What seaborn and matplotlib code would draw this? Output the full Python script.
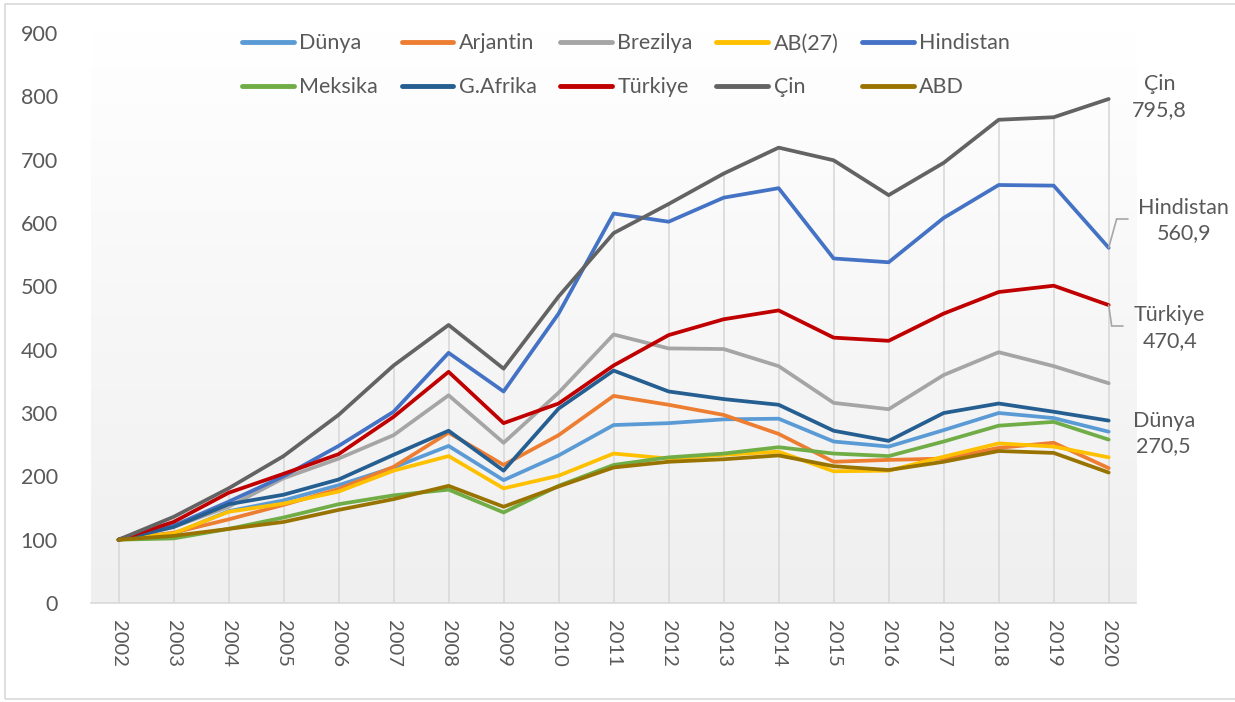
import seaborn as sns
import matplotlib.pyplot as plt
import matplotlib.transforms as mtransforms
from matplotlib.colors import LinearSegmentedColormap
from matplotlib.patches import Rectangle
import numpy as np
import pandas as pd

# Values (index, 2002 = 100)
years = [str(y) for y in range(2002, 2021)]
dunya = [100, 109, 145, 162, 186, 214, 248, 194, 233, 281, 284, 290, 291, 255, 247, 273, 300, 292, 270.5]
arjantin = [100, 111, 132, 155, 180, 215, 269, 218, 265, 327, 313, 297, 267, 223, 226, 228, 245, 253, 213]
brezilya = [100, 120, 152, 197, 228, 265, 328, 253, 332, 424, 402, 401, 374, 316, 306, 360, 396, 374, 347]
ab27 = [100, 110, 144, 157, 176, 209, 232, 181, 201, 236, 228, 234, 239, 208, 209, 231, 252, 247, 230]
hindistan = [100, 122, 160, 200, 248, 302, 395, 334, 457, 615, 602, 640, 655, 544, 538, 608, 660, 659, 560.9]
meksika = [100, 102, 117, 135, 156, 170, 179, 143, 185, 218, 230, 236, 246, 236, 232, 255, 280, 286, 258]
gafrika = [100, 120, 156, 171, 195, 234, 272, 209, 307, 367, 334, 322, 313, 272, 256, 300, 315, 302, 288]
turkiye = [100, 128, 174, 204, 235, 294, 365, 284, 315, 375, 423, 448, 462, 419, 414, 457, 491, 501, 470.4]
cin = [100, 136, 181, 232, 297, 375, 439, 370, 484, 584, 630, 678, 719, 699, 644, 695, 763, 767, 795.8]
abd = [100, 106, 117, 128, 147, 164, 185, 152, 184, 214, 223, 227, 233, 216, 210, 223, 240, 237, 206]

series = {
    "Dünya": dunya, "Arjantin": arjantin, "Brezilya": brezilya, "AB(27)": ab27,
    "Hindistan": hindistan, "Meksika": meksika, "G.Afrika": gafrika,
    "Türkiye": turkiye, "Çin": cin, "ABD": abd,
}
colors = {
    "Dünya": "#5B9BD5", "Arjantin": "#ED7D31", "Brezilya": "#A5A5A5", "AB(27)": "#FFC000",
    "Hindistan": "#4472C4", "Meksika": "#70AD47", "G.Afrika": "#255E91",
    "Türkiye": "#C00000", "Çin": "#636363", "ABD": "#997300",
}
# labelled end points: name -> (text, x offset px, y offset px)
end_labels = {
    "Çin": ("Çin\n795,8", 51, 2),
    "Hindistan": ("Hindistan\n560,9", 75, 27),
    "Türkiye": ("Türkiye\n470,4", 61, -23),
    "Dünya": ("Dünya\n270,5", 55, -2),
}

order = list(series.keys())
df = pd.DataFrame([
    {"idx": i, "year": years[i], "country": name, "value": vals[i]}
    for name, vals in series.items() for i in range(len(years))
])

sns.set_theme(style="white")
plt.rcParams['font.family'] = ['Lato', 'DejaVu Sans']
text_color = "#595959"
fs = 15.5

fig = plt.figure(figsize=(12.35, 7.02), dpi=100)
ax = fig.add_axes([0.0737, 0.141, 0.8463, 0.812])

# gradient plot area background
grad = np.linspace(0, 1, 256).reshape(-1, 1)
cmap = LinearSegmentedColormap.from_list("bg", ["#ffffff", "#efefef"])
ax.imshow(grad, extent=(-0.5, 18.5, 0, 900), aspect="auto", cmap=cmap,
          origin="upper", zorder=0)

# drop lines from the highest value down to the axis
tops = df.groupby("idx")["value"].max()
ax.vlines(tops.index, 0, tops.values, color="#d9d9d9", lw=1.2, zorder=1)

sns.lineplot(data=df, x="idx", y="value", hue="country", hue_order=order,
             palette=colors, lw=2.7, ax=ax, zorder=3)

ax.set_xlim(-0.5, 18.5)
ax.set_ylim(0, 900)
ax.set_xticks(range(len(years)))
ax.set_xticklabels(years, rotation=270)
ax.set_yticks(range(0, 901, 100))
ax.set_xlabel("")
ax.set_ylabel("")
for s in ["top", "right", "left"]:
    ax.spines[s].set_visible(False)
ax.spines["bottom"].set_color("#d9d9d9")
ax.spines["bottom"].set_linewidth(1.2)
ax.tick_params(axis="y", length=0, pad=24, labelsize=fs, labelcolor=text_color)
ax.tick_params(axis="x", length=0, pad=12, labelsize=14.5, labelcolor=text_color)

# legend: 2 rows x 5 columns, filled row by row
handles, labels = ax.get_legend_handles_labels()
ax.get_legend().remove()
hmap = dict(zip(labels, handles))
col_order = []
for c in range(5):
    col_order += [order[c], order[c + 5]]
leg = fig.legend([hmap[n] for n in col_order], col_order, ncol=5,
                 loc="upper center", bbox_to_anchor=(0.507, 0.98), frameon=False,
                 fontsize=fs, handlelength=2.4, handletextpad=0.25,
                 columnspacing=1.1, labelspacing=1.1, labelcolor=text_color)
for h in leg.legend_handles:
    h.set_linewidth(3.5)

# end-point labels
for name, (txt, dx, dy) in end_labels.items():
    ax.annotate(txt, xy=(18, series[name][-1]), xytext=(dx, dy),
                textcoords="offset pixels", ha="center", va="center",
                fontsize=fs, color=text_color, linespacing=1.35)

# leader lines for Hindistan and Türkiye
leaders = {"Hindistan": [(0, 0), (8, 29), (19, 29)],
           "Türkiye": [(0, 0), (3, -21), (14, -21)]}
for name, pts in leaders.items():
    y0 = series[name][-1]
    for (x1, y1), (x2, y2) in zip(pts[:-1], pts[1:]):
        tr1 = mtransforms.offset_copy(ax.transData, fig=fig, x=x1, y=y1, units="dots")
        tr2 = mtransforms.offset_copy(ax.transData, fig=fig, x=x2, y=y2, units="dots")
        p1 = tr1.transform((18, y0))
        p2 = tr2.transform((18, y0))
        ax.plot([p1[0], p2[0]], [p1[1], p2[1]], transform=None, color="#a6a6a6",
                lw=1.2, zorder=4, clip_on=False)

# chart area border
fig.patches.append(Rectangle((0.004, 0.004), 1.0, 0.99, transform=fig.transFigure,
                             fill=False, edgecolor="#d9d9d9", lw=1.2))

fig.savefig("out.png", dpi=100)
